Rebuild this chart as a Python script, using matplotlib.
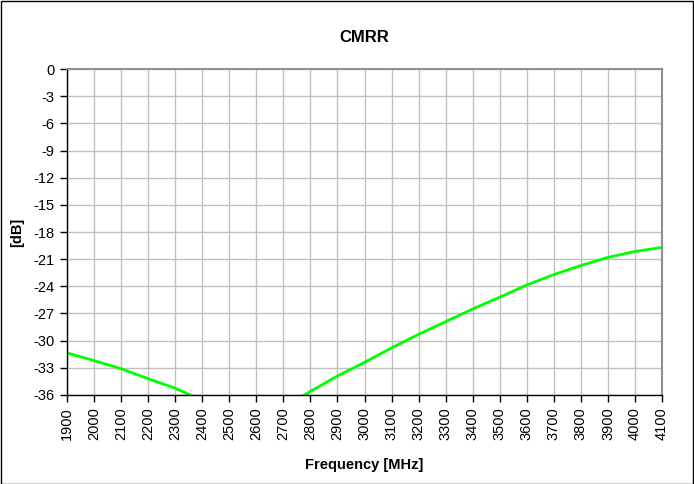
import matplotlib
matplotlib.use("Agg")
import matplotlib.pyplot as plt
import numpy as np

plt.rcParams['font.family'] = ['Liberation Sans', 'DejaVu Sans']

freq_mhz = [1900, 2000, 2100, 2200, 2300, 2400, 2500, 2600, 2700, 2800, 2900, 3000,
            3100, 3200, 3300, 3400, 3500, 3600, 3700, 3800, 3900, 4000, 4100]
cmrr_db = [-31.35, -32.2, -33.1, -34.2, -35.25, -36.6, -38.0, -38.5, -37.4, -35.6, -33.9, -32.4,
           -30.8, -29.3, -27.9, -26.5, -25.2, -23.85, -22.7, -21.7, -20.8, -20.15, -19.7]
x_ticks = list(range(1900, 4101, 100))
y_ticks = list(range(-36, 1, 3))

fig = plt.figure(figsize=(6.94, 4.84), dpi=100)
ax = fig.add_axes([0.0965, 0.1839, 0.954 - 0.0965, 0.8574 - 0.1839])

ax.plot(freq_mhz, cmrr_db, color='#00ff00', lw=2.0, solid_capstyle='butt', clip_on=True)
ax.set_xlim(1900, 4100)
ax.set_ylim(-36, 0)
ax.set_xticks(x_ticks)
ax.set_xticklabels([str(t) for t in x_ticks], rotation=90, fontsize=10.5)
ax.set_yticks(y_ticks)
ax.set_yticklabels([str(t) for t in y_ticks], fontsize=10.5)
ax.grid(True, color='#c0c0c0', lw=1.0)
ax.set_axisbelow(True)
ax.tick_params(direction='out', length=5, width=1, color='black', pad=4)
for s in ['left', 'bottom']:
    ax.spines[s].set_color('black')
    ax.spines[s].set_linewidth(1.0)
for s in ['top', 'right']:
    ax.spines[s].set_color('#909090')
    ax.spines[s].set_linewidth(1.5)

ax.set_xlabel('Frequency [MHz]', fontsize=10.5, fontweight='bold')
ax.xaxis.set_label_coords(0.5 * (1 - 0.0) + (364 - 364.5) / 595, (395 - 465) / 326)
ax.xaxis.label.set_va('center')
ax.set_ylabel('[dB]', fontsize=10.5, fontweight='bold')
ax.yaxis.set_label_coords((17 - 67) / 595, 0.5)
ax.yaxis.label.set_va('center')
fig.text(0.5 * (0.0965 + 0.954), 1 - 37 / 484, 'CMRR', ha='center', va='center',
         fontsize=12, fontweight='bold')

fig.patches.append(plt.Rectangle((0.5 / 694, 0.5 / 484), 1 - 1.5 / 694, 1 - 1.5 / 484,
                                 transform=fig.transFigure, fill=False,
                                 edgecolor='black', lw=1.0))

fig.savefig('out.png', dpi=100)
